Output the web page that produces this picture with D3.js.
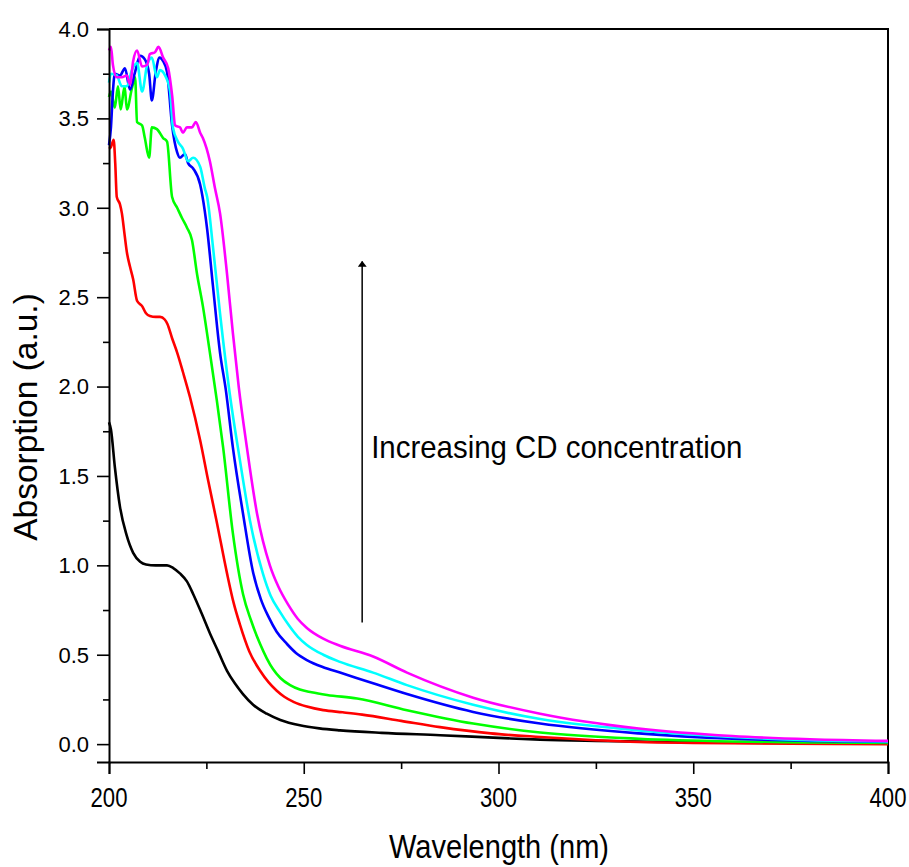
<!DOCTYPE html>
<html>
<head>
<meta charset="utf-8">
<script src="https://cdn.jsdelivr.net/npm/d3@7"></script>
<style>
  html, body { margin: 0; padding: 0; background: #fff; }
  svg { display: block; }
</style>
</head>
<body>
<svg id="chart" width="909" height="867"></svg>
<script>
// UV-Vis absorption spectra, [wavelength (nm), absorbance (a.u.)]
const black = [[200,1.80],[200.5,1.76],[201.5,1.55],[202.8,1.33],[204.5,1.17],[206.2,1.07],[208,1.02],[209.5,1.005],[212,1.0],[214.9,1.0],[216.5,0.985],[218.2,0.955],[220,0.91],[221.6,0.84],[223.8,0.73],[225.9,0.62],[228,0.52],[230.3,0.41],[232.3,0.34],[234.4,0.28],[237,0.22],[240.5,0.17],[244,0.135],[249,0.105],[254,0.088],[259.3,0.077],[270,0.063],[285,0.05],[300,0.035],[310.7,0.025],[325,0.018],[340,0.013],[360,0.008],[380,0.005],[400,0.003]];
const red = [[200,3.33],[200.5,3.34],[201.2,3.38],[201.6,3.25],[202,3.06],[202.8,3.02],[203.3,2.97],[204,2.85],[204.6,2.75],[205.4,2.67],[206.2,2.60],[207.2,2.48],[208.5,2.45],[209.5,2.41],[210.5,2.395],[212,2.39],[213.1,2.39],[214.3,2.375],[215,2.35],[216.2,2.27],[217.5,2.19],[219,2.08],[220.8,1.94],[223.4,1.70],[225.5,1.47],[227.6,1.25],[230.3,0.955],[232,0.79],[233.6,0.67],[236,0.52],[238.8,0.41],[241,0.345],[243,0.30],[245,0.265],[247.5,0.235],[250.8,0.21],[255,0.19],[260,0.178],[265,0.165],[275,0.13],[285,0.095],[298,0.06],[310.7,0.04],[325,0.022],[336,0.012],[350,0.007],[375,0.003],[400,0.0]];
const green = [[200,3.62],[200.5,3.65],[201.5,3.56],[202.3,3.68],[203,3.55],[204,3.68],[204.6,3.55],[205.9,3.67],[206.7,3.73],[207.2,3.48],[208.5,3.46],[209.2,3.39],[210.3,3.28],[211,3.45],[212.3,3.44],[213.9,3.39],[214.9,3.37],[216.2,3.06],[217.5,3.0],[218.8,2.94],[220,2.89],[221.3,2.82],[222.6,2.63],[224.1,2.45],[225.9,2.19],[227.7,1.92],[229.3,1.66],[231.8,1.18],[234.4,0.84],[236.5,0.69],[238.8,0.56],[240.5,0.48],[242.1,0.42],[244,0.37],[246.5,0.33],[249,0.305],[252,0.29],[256,0.275],[263.7,0.255],[276.5,0.19],[293.5,0.115],[310.7,0.065],[336,0.03],[360,0.015],[380,0.01],[400,0.006]];
const blue = [[200,3.35],[200.5,3.45],[201,3.65],[201.5,3.75],[202.8,3.74],[204.1,3.78],[205.4,3.66],[206.7,3.76],[208,3.85],[209.2,3.83],[210.3,3.75],[211,3.60],[212,3.76],[213,3.84],[213.9,3.82],[214.9,3.76],[216.2,3.46],[217.5,3.31],[218.2,3.28],[219.5,3.30],[220.3,3.25],[221.6,3.22],[223.4,3.13],[224.6,2.98],[225.2,2.88],[226.7,2.56],[228.5,2.19],[230.0,1.98],[231.8,1.66],[234.4,1.29],[237,0.96],[239,0.81],[241,0.71],[243,0.63],[245.7,0.56],[248,0.51],[250.8,0.47],[255,0.43],[259.3,0.40],[267.8,0.34],[276.5,0.28],[293.5,0.18],[310.7,0.115],[336,0.06],[360,0.03],[380,0.018],[400,0.012]];
const cyan = [[200,3.70],[200.5,3.75],[202,3.74],[203.3,3.68],[204.6,3.68],[205.9,3.77],[207.2,3.81],[208.5,3.65],[209.8,3.80],[211,3.84],[212.3,3.73],[213.1,3.77],[214.4,3.74],[215.7,3.65],[216.4,3.45],[217.7,3.37],[219,3.33],[220.3,3.26],[221.6,3.28],[223.4,3.23],[224.6,3.11],[225.2,3.06],[226.7,2.78],[228.5,2.41],[231,1.96],[233.6,1.59],[236.2,1.25],[239.5,0.955],[241.5,0.83],[243.9,0.74],[246,0.67],[248.5,0.60],[250.8,0.555],[255,0.50],[259.3,0.46],[267.8,0.40],[276.5,0.33],[293.5,0.22],[310.7,0.14],[336,0.077],[360,0.04],[380,0.022],[400,0.015]];
const magenta = [[200,3.88],[200.5,3.90],[201,3.80],[202,3.73],[203.3,3.73],[204.6,3.74],[205.4,3.69],[206.2,3.82],[207.2,3.88],[208.5,3.79],[209.8,3.80],[210.5,3.86],[211.8,3.87],[212.7,3.90],[213.9,3.84],[215.2,3.78],[216.2,3.63],[217,3.46],[218.2,3.45],[219,3.42],[220,3.45],[221.3,3.45],[222.3,3.48],[223.4,3.42],[224.1,3.39],[225.9,3.26],[227.2,3.11],[228.5,2.97],[230.3,2.63],[231.8,2.30],[233.3,2.0],[235.4,1.66],[238,1.29],[241.3,1.0],[243.5,0.88],[246,0.78],[248.5,0.70],[250.8,0.65],[255,0.59],[259.3,0.55],[267.8,0.49],[276.5,0.40],[293.5,0.26],[310.7,0.17],[336,0.087],[360,0.045],[380,0.027],[400,0.018]];

const seriesList = [black, red, green, blue, cyan, magenta];
const seriesColors = ["#000000", "#ff0000", "#00ff00", "#0000ff", "#00ffff", "#ff00ff"];

const xMajorTicks = [200, 250, 300, 350, 400];
const xMinorTicks = [225, 275, 325, 375];
const yMajorTicks = [0.0, 0.5, 1.0, 1.5, 2.0, 2.5, 3.0, 3.5, 4.0];
const yMinorTicks = [0.25, 0.75, 1.25, 1.75, 2.25, 2.75, 3.25, 3.75];

const xTitle = "Wavelength (nm)";
const yTitle = "Absorption (a.u.)";
const noteText = "Increasing CD concentration";
// annotation arrow: wavelength, start and end absorbance
const arrowAt = [265, 0.68, 2.7];
const noteAt = [267.3, 1.6];

const svg = d3.select("#chart");
const mLeft = 109, mRight = 888, mTop = 29, mBottom = 762;

const x = d3.scaleLinear().domain([200, 400]).range([mLeft, mRight]);
const y = d3.scaleLinear().domain([-0.1, 4.0]).range([mBottom, mTop]);

const fontMain = "'Liberation Sans', Arial, sans-serif";

// frame (top and right)
svg.append("path")
  .attr("d", `M${mLeft},${mTop}H${mRight}V${mBottom}`)
  .attr("fill", "none").attr("stroke", "#000").attr("stroke-width", 2);

// spectra
const line = d3.line()
  .x(d => x(d[0])).y(d => y(d[1]))
  .curve(d3.curveMonotoneX);

const plot = svg.append("g");
seriesList.forEach((s, i) => {
  plot.append("path")
    .datum(s)
    .attr("d", line)
    .attr("fill", "none")
    .attr("stroke", seriesColors[i])
    .attr("stroke-width", 2.6)
    .attr("stroke-linejoin", "round");
});

// bottom axis: major and minor ticks
const xAxis = svg.append("g").attr("transform", `translate(0,${mBottom})`);
xAxis.call(d3.axisBottom(x).tickValues(xMajorTicks).tickSize(12).tickFormat(""));
const xMinor = xAxis.append("g").call(d3.axisBottom(x).tickValues(xMinorTicks).tickSize(7).tickFormat(""));
xMinor.select(".domain").remove();
xAxis.selectAll(".domain").attr("stroke-width", 2).attr("stroke", "#000");
xAxis.selectAll(".tick line").attr("stroke-width", 1.6).attr("stroke", "#000");

// x tick labels (condensed)
xMajorTicks.forEach(v => {
  svg.append("text")
    .attr("transform", `translate(${x(v)},807) scale(0.82,1)`)
    .attr("text-anchor", "middle")
    .attr("font-family", fontMain)
    .attr("font-size", 27)
    .attr("fill", "#000")
    .text(String(v));
});

// left axis: major and minor ticks
const yAxis = svg.append("g").attr("transform", `translate(${mLeft},0)`);
yAxis.call(d3.axisLeft(y).tickValues(yMajorTicks).tickSize(12).tickFormat(""));
const yMinor = yAxis.append("g").call(d3.axisLeft(y).tickValues(yMinorTicks).tickSize(6).tickFormat(""));
yMinor.select(".domain").remove();
yAxis.selectAll(".domain").attr("stroke-width", 2).attr("stroke", "#000");
yAxis.selectAll(".tick line").attr("stroke-width", 1.6).attr("stroke", "#000");

yMajorTicks.forEach(v => {
  svg.append("text")
    .attr("x", 89)
    .attr("y", y(v))
    .attr("dy", "0.36em")
    .attr("text-anchor", "end")
    .attr("font-family", fontMain)
    .attr("font-size", 22)
    .attr("fill", "#000")
    .text(d3.format(".1f")(v));
});

// axis titles
svg.append("text")
  .attr("transform", `translate(499,858) scale(0.88,1)`)
  .attr("text-anchor", "middle")
  .attr("font-family", fontMain)
  .attr("font-size", 33)
  .attr("fill", "#000")
  .text(xTitle);

svg.append("text")
  .attr("transform", `translate(37,417) rotate(-90)`)
  .attr("text-anchor", "middle")
  .attr("font-family", fontMain)
  .attr("font-size", 33.5)
  .attr("fill", "#000")
  .text(yTitle);

// annotation arrow and label
const defs = svg.append("defs");
defs.append("marker")
  .attr("id", "arrowhead")
  .attr("viewBox", "0 0 10 10")
  .attr("refX", 9).attr("refY", 5)
  .attr("markerWidth", 6).attr("markerHeight", 9)
  .attr("markerUnits", "userSpaceOnUse")
  .attr("orient", "auto")
  .attr("preserveAspectRatio", "none")
  .append("path").attr("d", "M0,0L10,5L0,10Z").attr("fill", "#000");

svg.append("line")
  .attr("x1", x(arrowAt[0])).attr("x2", x(arrowAt[0]))
  .attr("y1", y(arrowAt[1])).attr("y2", y(arrowAt[2]))
  .attr("stroke", "#111").attr("stroke-width", 1.6)
  .attr("marker-end", "url(#arrowhead)");

svg.append("text")
  .attr("transform", `translate(${x(noteAt[0])},${y(noteAt[1])}) scale(0.92,1)`)
  .attr("font-family", fontMain)
  .attr("font-size", 32)
  .attr("fill", "#000")
  .text(noteText);
</script>
</body>
</html>
